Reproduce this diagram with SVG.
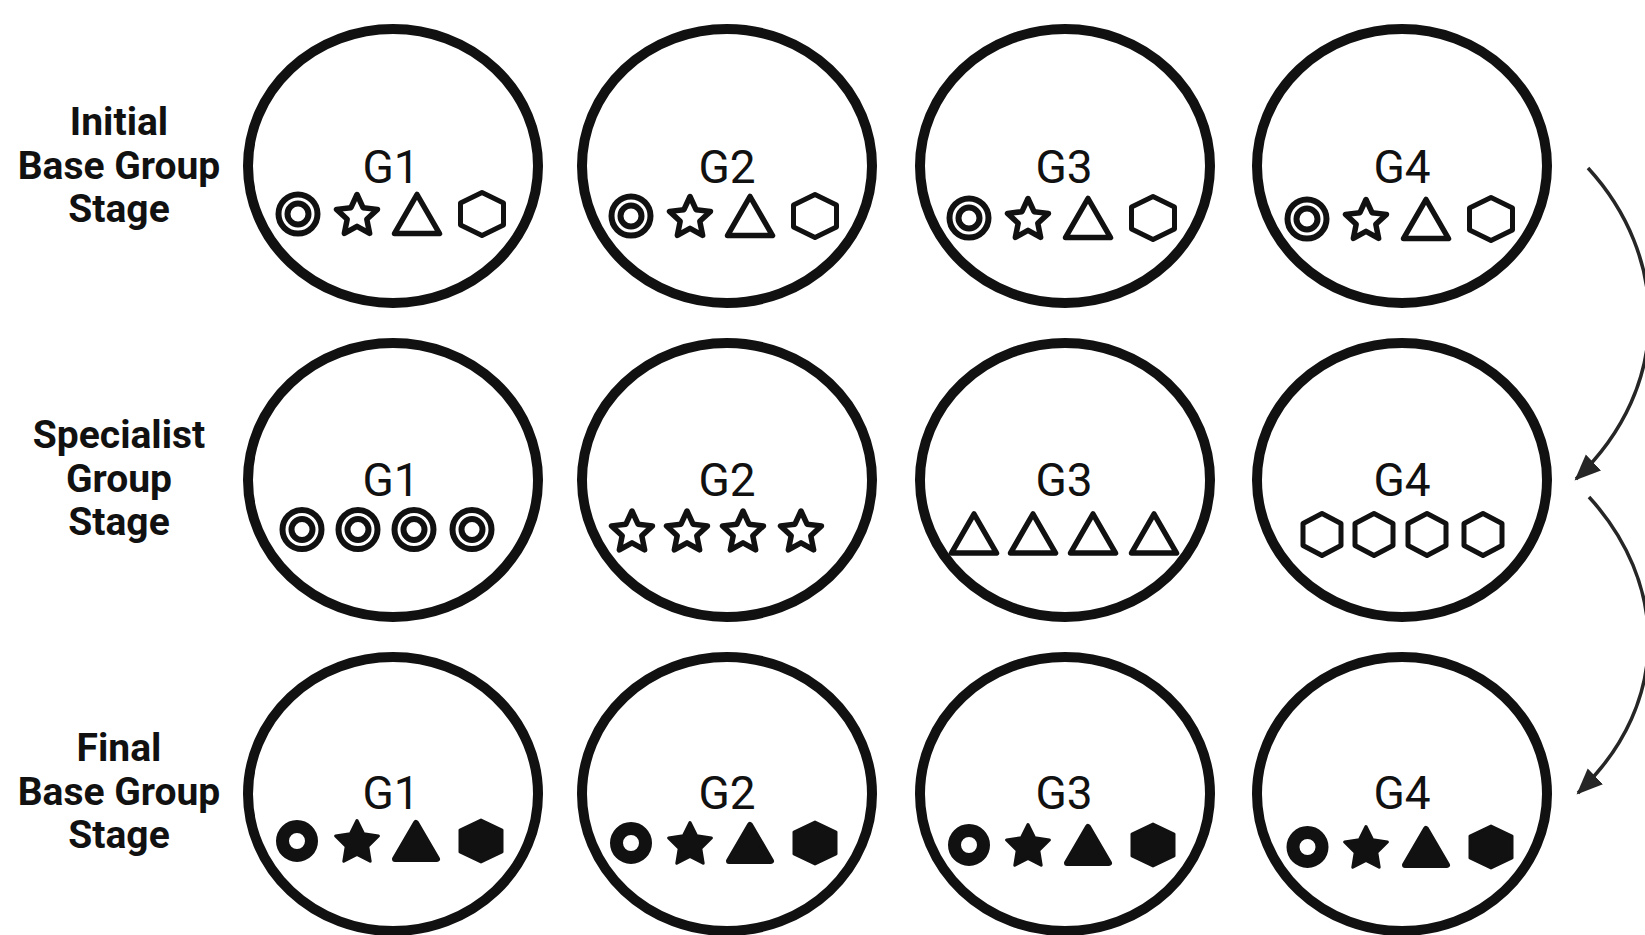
<svg xmlns="http://www.w3.org/2000/svg" xmlns:xlink="http://www.w3.org/1999/xlink" width="1645" height="935" viewBox="0 0 1645 935">
<style>
.bg{fill:#fff}
.grp{fill:#fff;stroke:#111;stroke-width:10}
.gl{font-family:Roboto,"Liberation Sans",sans-serif;font-size:46px;fill:#111;text-anchor:middle}
.lbl{font-family:Roboto,"Liberation Sans",sans-serif;font-size:39px;font-weight:700;fill:#111;text-anchor:middle}
.o{fill:none;stroke:#111;stroke-width:5.5;stroke-linejoin:round}
.f{fill:#111;stroke:#111;stroke-linejoin:round}
.conn{fill:none;stroke:#262626;stroke-width:3.5}
</style>
<defs>
<g id="tgtO"><circle r="19.5" class="o" style="stroke-width:6"/><circle r="10.5" class="o" style="stroke-width:6"/></g>
<path id="starO" class="o" style="stroke-width:5.5" d="M0,-21.5 L6.05,-8.33 L20.45,-6.64 L9.8,3.18 L12.64,17.39 L0,10.3 L-12.64,17.39 L-9.8,3.18 L-20.45,-6.64 L-6.05,-8.33 Z"/>
<polygon id="triO" class="o" points="0,-19.5 22.5,19.5 -22.5,19.5"/>
<polygon id="hexO" class="o" style="stroke-width:5" points="0,-21.5 21.5,-11 21.5,11 0,21.5 -21.5,11 -21.5,-11"/>
<polygon id="hexO2" class="o" style="stroke-width:5" points="0,-21 19,-11 19,11 0,21 -19,11 -19,-11"/>
<circle id="ringF" r="14.5" fill="none" stroke="#111" stroke-width="13"/>
<path id="starF" class="f" style="stroke-width:3" d="M0,-22.5 L6.7,-9.2 L21.4,-6.95 L10.8,3.5 L13.2,18.2 L0,11.3 L-13.2,18.2 L-10.8,3.5 L-21.4,-6.95 L-6.7,-9.2 Z"/>
<polygon id="triF" class="f" style="stroke-width:6" points="0,-18 21,18 -21,18"/>
<polygon id="hexF" class="f" style="stroke-width:3" points="0,-21 21,-11 21,11 0,21 -21,11 -21,-11"/>
<marker id="ah" markerUnits="userSpaceOnUse" markerWidth="27" markerHeight="24" viewBox="0 0 27 24" refX="24" refY="12" orient="auto">
<path d="M0,1 L26,12 L0,23 Z" fill="#262626"/>
</marker>
</defs>
<rect class="bg" x="0" y="0" width="1645" height="935"/>

<g id="labels">
<text class="lbl" x="119"><tspan x="119" y="135">Initial</tspan><tspan x="119" y="178.5">Base Group</tspan><tspan x="119" y="222">Stage</tspan></text>
<text class="lbl" x="119"><tspan x="119" y="448">Specialist</tspan><tspan x="119" y="491.5">Group</tspan><tspan x="119" y="535">Stage</tspan></text>
<text class="lbl" x="119"><tspan x="119" y="761">Final</tspan><tspan x="119" y="804.5">Base Group</tspan><tspan x="119" y="848">Stage</tspan></text>
</g>

<!-- Row 1: Initial base groups -->
<g id="r1g1"><ellipse class="grp" cx="393" cy="166" rx="145" ry="137"/><text class="gl" x="391" y="183">G1</text>
<use xlink:href="#tgtO" x="298" y="214"/><use xlink:href="#starO" x="357" y="216"/><use xlink:href="#triO" x="417" y="214"/><use xlink:href="#hexO" x="482" y="214"/></g>
<g id="r1g2"><ellipse class="grp" cx="727" cy="166" rx="145" ry="137"/><text class="gl" x="727" y="183">G2</text>
<use xlink:href="#tgtO" x="631" y="216"/><use xlink:href="#starO" x="690" y="218"/><use xlink:href="#triO" x="750" y="216"/><use xlink:href="#hexO" x="815" y="216"/></g>
<g id="r1g3"><ellipse class="grp" cx="1065" cy="166" rx="145" ry="137"/><text class="gl" x="1064" y="183">G3</text>
<use xlink:href="#tgtO" x="969" y="218"/><use xlink:href="#starO" x="1028" y="220"/><use xlink:href="#triO" x="1088" y="218"/><use xlink:href="#hexO" x="1153" y="218"/></g>
<g id="r1g4"><ellipse class="grp" cx="1402" cy="166" rx="145" ry="137"/><text class="gl" x="1402" y="183">G4</text>
<use xlink:href="#tgtO" x="1307" y="219"/><use xlink:href="#starO" x="1366" y="221"/><use xlink:href="#triO" x="1426" y="219"/><use xlink:href="#hexO" x="1491" y="219"/></g>

<!-- Row 2: Specialist groups -->
<g id="r2g1"><ellipse class="grp" cx="393" cy="480" rx="145" ry="137"/><text class="gl" x="391" y="496">G1</text>
<use xlink:href="#tgtO" x="302" y="529.5"/><use xlink:href="#tgtO" x="358" y="529.5"/><use xlink:href="#tgtO" x="414" y="529.5"/><use xlink:href="#tgtO" x="472" y="529.5"/></g>
<g id="r2g2"><ellipse class="grp" cx="727" cy="480" rx="145" ry="137"/><text class="gl" x="727" y="496">G2</text>
<use xlink:href="#starO" x="632" y="532.5"/><use xlink:href="#starO" x="687" y="532.5"/><use xlink:href="#starO" x="743" y="532.5"/><use xlink:href="#starO" x="801" y="532.5"/></g>
<g id="r2g3"><ellipse class="grp" cx="1065" cy="480" rx="145" ry="137"/><text class="gl" x="1064" y="496">G3</text>
<use xlink:href="#triO" x="974" y="533.5"/><use xlink:href="#triO" x="1033" y="533.5"/><use xlink:href="#triO" x="1093" y="533.5"/><use xlink:href="#triO" x="1154" y="533.5"/></g>
<g id="r2g4"><ellipse class="grp" cx="1402" cy="480" rx="145" ry="137"/><text class="gl" x="1402" y="496">G4</text>
<use xlink:href="#hexO2" x="1322" y="534.5"/><use xlink:href="#hexO2" x="1374" y="534.5"/><use xlink:href="#hexO2" x="1427" y="534.5"/><use xlink:href="#hexO2" x="1483" y="534.5"/></g>

<!-- Row 3: Final base groups -->
<g id="r3g1"><ellipse class="grp" cx="393" cy="794" rx="145" ry="137"/><text class="gl" x="391" y="809">G1</text>
<use xlink:href="#ringF" x="297" y="841"/><use xlink:href="#starF" x="357" y="843"/><use xlink:href="#triF" x="416" y="841"/><use xlink:href="#hexF" x="481" y="841"/></g>
<g id="r3g2"><ellipse class="grp" cx="727" cy="794" rx="145" ry="137"/><text class="gl" x="727" y="809">G2</text>
<use xlink:href="#ringF" x="631" y="843"/><use xlink:href="#starF" x="690" y="845"/><use xlink:href="#triF" x="750" y="843"/><use xlink:href="#hexF" x="815" y="843"/></g>
<g id="r3g3"><ellipse class="grp" cx="1065" cy="794" rx="145" ry="137"/><text class="gl" x="1064" y="809">G3</text>
<use xlink:href="#ringF" x="969" y="845"/><use xlink:href="#starF" x="1028" y="847"/><use xlink:href="#triF" x="1088" y="845"/><use xlink:href="#hexF" x="1153" y="845"/></g>
<g id="r3g4"><ellipse class="grp" cx="1402" cy="794" rx="145" ry="137"/><text class="gl" x="1402" y="809">G4</text>
<use xlink:href="#ringF" x="1307.5" y="847"/><use xlink:href="#starF" x="1366" y="849"/><use xlink:href="#triF" x="1426" y="847"/><use xlink:href="#hexF" x="1491" y="847"/></g>

<g id="connectors">
<path class="conn" marker-end="url(#ah)" d="M1588,168 C1668,255 1675,385 1576,479"/>
<path class="conn" marker-end="url(#ah)" d="M1589,497 C1665,580 1675,700 1578,793"/>
</g>
</svg>
